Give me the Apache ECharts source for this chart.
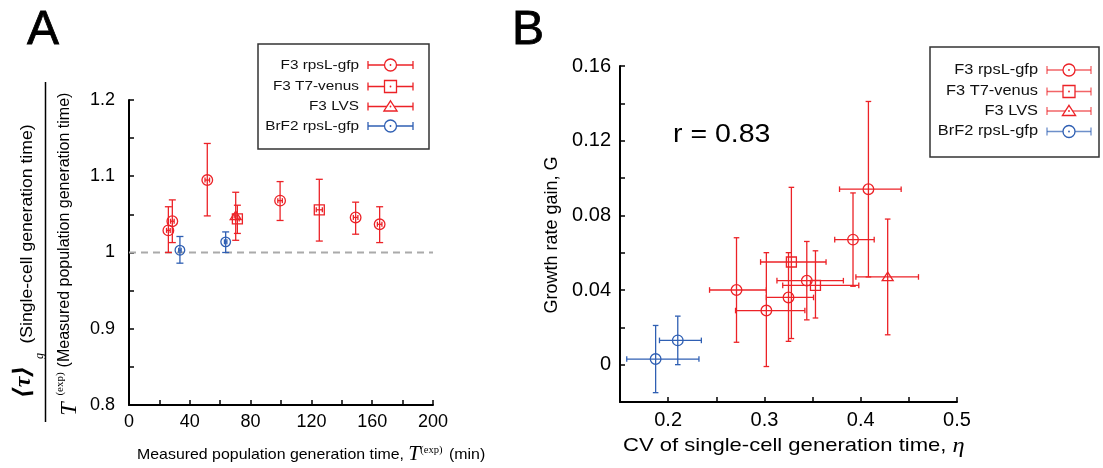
<!DOCTYPE html>
<html><head><meta charset="utf-8">
<script src="https://cdn.jsdelivr.net/npm/echarts@6/dist/echarts.min.js"></script>
<style>html,body{margin:0;padding:0;background:#fff}#c{width:1103px;height:468px}</style>
</head><body><div id="c"></div>
<script>
// ---------------- Panel A data ----------------
const aXTicks = [0, 40, 80, 120, 160, 200];
const aYTicks = [0.8, 0.9, 1, 1.1, 1.2];
// F3 rpsL-gfp
const aRpsX   = [25.9, 28.5, 51.5, 99.4, 149.1, 164.9];
const aRpsXe  = [1.2, 1.2, 1.5, 1.5, 1.5, 1.5];
const aRpsY   = [1.029, 1.041, 1.095, 1.068, 1.046, 1.037];
const aRpsYlo = [1.000, 1.013, 1.048, 1.042, 1.024, 1.013];
const aRpsYhi = [1.060, 1.069, 1.143, 1.093, 1.066, 1.060];
// F3 T7-venus
const aT7X   = [71.3, 125.2];
const aT7Xe  = [1.2, 2.0];
const aT7Y   = [1.044, 1.056];
const aT7Ylo = [1.025, 1.015];
const aT7Yhi = [1.062, 1.096];
// F3 LVS
const aLvsX   = [70.2];
const aLvsXe  = [1.0];
const aLvsY   = [1.048];
const aLvsYlo = [1.016];
const aLvsYhi = [1.079];
// BrF2 rpsL-gfp
const aBrX   = [33.5, 63.6];
const aBrXe  = [0.8, 0.8];
const aBrY   = [1.003, 1.014];
const aBrYlo = [0.986, 1.000];
const aBrYhi = [1.021, 1.027];
const aRefX = [0, 200];
const aRefY = [1, 1];

// ---------------- Panel B data ----------------
const bXTicks = [0.2, 0.3, 0.4, 0.5];
const bYTicks = [0, 0.04, 0.08, 0.12, 0.16];
const bRpsX   = [0.271, 0.302, 0.325, 0.344, 0.392, 0.408];
const bRpsXlo = [0.243, 0.270, 0.302, 0.313, 0.373, 0.378];
const bRpsXhi = [0.302, 0.342, 0.351, 0.382, 0.414, 0.442];
const bRpsY   = [0.040, 0.029, 0.036, 0.045, 0.067, 0.094];
const bRpsYlo = [0.012, -0.001, 0.0125, 0.024, 0.042, 0.047];
const bRpsYhi = [0.068, 0.060, 0.060, 0.066, 0.092, 0.141];
const bT7X   = [0.328, 0.353];
const bT7Xlo = [0.296, 0.319];
const bT7Xhi = [0.364, 0.398];
const bT7Y   = [0.055, 0.0425];
const bT7Ylo = [0.014, 0.025];
const bT7Yhi = [0.095, 0.061];
const bLvsX   = [0.428];
const bLvsXlo = [0.395];
const bLvsXhi = [0.460];
const bLvsY   = [0.047];
const bLvsYlo = [0.016];
const bLvsYhi = [0.078];
const bBrX   = [0.187, 0.210];
const bBrXlo = [0.157, 0.191];
const bBrXhi = [0.232, 0.2345];
const bBrY   = [0.003, 0.013];
const bBrYlo = [-0.015, 0.000];
const bBrYhi = [0.021, 0.026];

const legendLabels = ['F3 rpsL-gfp', 'F3 T7-venus', 'F3 LVS', 'BrF2 rpsL-gfp'];
const corrText = 'r = 0.83';

// ---------------- helpers ----------------
const RED = '#ec2227', BLUE = '#2f5fb3';
const SANS = '"Liberation Sans", Arial, Helvetica, sans-serif';
const SERIF = '"Liberation Serif", "DejaVu Serif", "Times New Roman", serif';

function rowsSym(x, xe, y, ylo, yhi) { return x.map((v, i) => [v, y[i], v - xe[i], v + xe[i], ylo[i], yhi[i]]); }
function rows(x, xlo, xhi, y, ylo, yhi) { return x.map((v, i) => [v, y[i], xlo[i], xhi[i], ylo[i], yhi[i]]); }

function marker(shape, cx, cy, s, style) {
  if (shape === 'circle') return {type: 'circle', shape: {cx, cy, r: s}, style};
  if (shape === 'square') return {type: 'rect', shape: {x: cx - s, y: cy - s, width: 2 * s, height: 2 * s}, style};
  return {type: 'polygon', shape: {points: [[cx, cy - s * 0.95], [cx + s * 1.1, cy + s * 0.75], [cx - s * 1.1, cy + s * 0.75]]}, style};
}

function errRender(o) {
  return function (params, api) {
    const x = api.value(0), y = api.value(1);
    const c = api.coord([x, y]);
    const xl = api.coord([api.value(2), y])[0], xh = api.coord([api.value(3), y])[0];
    const yl = api.coord([x, api.value(4)])[1], yh = api.coord([x, api.value(5)])[1];
    const st = () => ({stroke: o.color, lineWidth: o.lw, fill: 'none', opacity: o.op || 1});
    const L = (x1, y1, x2, y2) => ({type: 'line', shape: {x1, y1, x2, y2}, style: st()});
    const ch = [
      L(c[0], yl, c[0], yh), L(c[0] - o.cw, yl, c[0] + o.cw, yl), L(c[0] - o.cw, yh, c[0] + o.cw, yh),
      L(xl, c[1], xh, c[1]), L(xl, c[1] - o.ch, xl, c[1] + o.ch), L(xh, c[1] - o.ch, xh, c[1] + o.ch),
      marker(o.shape, c[0], c[1], o.size, {stroke: o.color, lineWidth: o.mlw || o.lw, fill: 'none'})
    ];
    return {type: 'group', children: ch};
  };
}

function customSeries(gi, data, o, z) {
  return {
    type: 'custom', xAxisIndex: gi, yAxisIndex: gi, data, renderItem: errRender(o),
    encode: {x: [0, 2, 3], y: [1, 4, 5]}, clip: false, silent: true, z: z || 2
  };
}

function legendGraphics(box, rowY, textRight, lx0, lx1, mx, fs, sx, lineOp) {
  const shapes = ['circle', 'square', 'triangle', 'circle'];
  const cols = [RED, RED, RED, BLUE];
  const g = [{type: 'rect', shape: box, style: {fill: '#fff', stroke: '#333', lineWidth: 1.5}, z: 50}];
  legendLabels.forEach((lab, i) => {
    const y = rowY[i], col = cols[i];
    const ls = {stroke: col, lineWidth: 1.3, opacity: lineOp};
    g.push({type: 'text', x: textRight, y: y, scaleX: sx, z: 51,
      style: {text: lab, fill: '#111', font: fs + 'px ' + SANS, align: 'right', verticalAlign: 'middle'}});
    g.push({type: 'line', z: 51, shape: {x1: lx0, y1: y, x2: lx1, y2: y}, style: Object.assign({}, ls)});
    g.push({type: 'line', z: 51, shape: {x1: lx0, y1: y - 4, x2: lx0, y2: y + 4}, style: Object.assign({}, ls)});
    g.push({type: 'line', z: 51, shape: {x1: lx1, y1: y - 4, x2: lx1, y2: y + 4}, style: Object.assign({}, ls)});
    const m = marker(shapes[i], mx, y, 6, {stroke: col, lineWidth: 1.3, fill: '#fff'});
    m.z = 52; g.push(m);
    g.push({type: 'circle', z: 53, shape: {cx: mx, cy: y, r: 0.9}, style: {fill: col}});
  });
  return g;
}

const axisBase = {
  type: 'value', splitLine: {show: false},
  axisLine: {show: true, onZero: false, lineStyle: {color: '#000', width: 2}},
  axisTick: {show: true, inside: true, length: 5, lineStyle: {color: '#000', width: 1.5}}
};

const chart = echarts.init(document.getElementById('c'), null, {renderer: 'canvas'});

const graphics = [
  // Panel letters
  {type: 'text', x: 43, y: 31, style: {text: 'A', font: '48px ' + SANS, fill: '#000', align: 'center', verticalAlign: 'middle', stroke: '#000', lineWidth: 0.8}},
  {type: 'text', x: 528, y: 31, style: {text: 'B', font: '48px ' + SANS, fill: '#000', align: 'center', verticalAlign: 'middle', stroke: '#000', lineWidth: 0.8}},
  // Panel A y label (fraction)
  {type: 'line', shape: {x1: 45.5, y1: 82, x2: 45.5, y2: 422}, style: {stroke: '#000', lineWidth: 1.5}},
  {type: 'text', x: 24, y: 382, rotation: Math.PI / 2,
    style: {text: '⟨τ⟩', font: 'italic bold 24px ' + SERIF, fill: '#000', align: 'center', verticalAlign: 'middle'}},
  {type: 'text', x: 40, y: 356, rotation: Math.PI / 2,
    style: {text: 'g', font: 'italic 12px ' + SERIF, fill: '#000', align: 'center', verticalAlign: 'middle'}},
  {type: 'text', x: 28, y: 234, rotation: Math.PI / 2, scaleX: 1.1,
    style: {text: '(Single-cell generation time)', font: '16px ' + SANS, fill: '#000', align: 'center', verticalAlign: 'middle'}},
  {type: 'text', x: 70, y: 409, rotation: Math.PI / 2,
    style: {text: 'T', font: 'italic 24px ' + SERIF, fill: '#000', align: 'center', verticalAlign: 'middle'}},
  {type: 'text', x: 60, y: 384, rotation: Math.PI / 2,
    style: {text: '(exp)', font: '11px ' + SERIF, fill: '#000', align: 'center', verticalAlign: 'middle'}},
  {type: 'text', x: 65, y: 230, rotation: Math.PI / 2,
    style: {text: '(Measured population generation time)', font: '16px ' + SANS, fill: '#000', align: 'center', verticalAlign: 'middle'}},
  // Panel A x label
  {type: 'text', x: 137, y: 455, scaleX: 1.06,
    style: {text: '{a|Measured population generation time, }{t|T}{s|(exp)}{a| (min)}', align: 'left', verticalAlign: 'middle',
      rich: {a: {font: '15px ' + SANS, fill: '#000'}, t: {font: 'italic 20px ' + SERIF, fill: '#000'},
        s: {font: '10px ' + SERIF, fill: '#000', verticalAlign: 'top', padding: [0, 2, 0, 0]}}}},
  // Panel B labels
  {type: 'text', x: 623, y: 446, scaleX: 1.16,
    style: {text: '{a|CV of single-cell generation time, }{t|η}', align: 'left', verticalAlign: 'middle',
      rich: {a: {font: '19px ' + SANS, fill: '#000'}, t: {font: 'italic 21px ' + SERIF, fill: '#000'}}}},
  {type: 'text', x: 552, y: 235, rotation: Math.PI / 2,
    style: {text: 'Growth rate gain, G', font: '18px ' + SANS, fill: '#000', align: 'center', verticalAlign: 'middle'}},
  {type: 'text', x: 673, y: 135, scaleX: 1.14,
    style: {text: corrText, font: '25px ' + SANS, fill: '#000', align: 'left', verticalAlign: 'middle'}}
].concat(
  legendGraphics({x: 258, y: 44, width: 171, height: 105}, [65, 86.5, 106.5, 126], 359, 368, 413, 390.5, 13, 1.18, 1),
  legendGraphics({x: 930, y: 47, width: 169, height: 110}, [70, 91.5, 111, 131.5], 1038, 1047, 1091, 1069, 14, 1.17, 0.7)
);

const option = {
  animation: false,
  backgroundColor: '#fff',
  textStyle: {fontFamily: SANS},
  grid: [
    {left: 129, top: 100, width: 304, height: 305},
    {left: 620, top: 66, width: 337, height: 336}
  ],
  xAxis: [
    Object.assign({}, axisBase, {gridIndex: 0, min: 0, max: 200, interval: 20,
      axisLabel: {color: '#000', fontSize: 18, margin: 8, fontFamily: SANS,
        formatter: v => aXTicks.some(t => Math.abs(t - v) < 1e-6) ? String(v) : ''}}),
    Object.assign({}, axisBase, {gridIndex: 1, min: 0.15, max: 0.5, interval: 0.05,
      axisLabel: {color: '#000', fontSize: 20, margin: 8, fontFamily: SANS,
        formatter: v => bXTicks.some(t => Math.abs(t - v) < 1e-6) ? String(Math.round(v * 10) / 10) : ''}})
  ],
  yAxis: [
    Object.assign({}, axisBase, {gridIndex: 0, min: 0.8, max: 1.2, interval: 0.05,
      axisLabel: {color: '#000', fontSize: 18, margin: 14, fontFamily: SANS,
        formatter: v => aYTicks.some(t => Math.abs(t - v) < 1e-6) ? String(Math.round(v * 10) / 10) : ''}}),
    Object.assign({}, axisBase, {gridIndex: 1, min: -0.02, max: 0.16, interval: 0.02,
      axisLabel: {color: '#000', fontSize: 20, margin: 9, fontFamily: SANS,
        formatter: v => bYTicks.some(t => Math.abs(t - v) < 1e-6) ? (Math.abs(v) < 1e-9 ? '0' : (Math.round(v * 100) / 100).toFixed(2)) : ''}})
  ],
  series: [
    {type: 'line', xAxisIndex: 0, yAxisIndex: 0, data: aRefX.map((v, i) => [v, aRefY[i]]), symbol: 'none', silent: true,
      lineStyle: {color: '#aaa', width: 2, type: [7, 5]}, z: 1},
    customSeries(0, rowsSym(aBrX, aBrXe, aBrY, aBrYlo, aBrYhi), {color: BLUE, lw: 1.3, cw: 3.5, ch: 2.5, shape: 'circle', size: 4.8}, 3),
    customSeries(0, rowsSym(aRpsX, aRpsXe, aRpsY, aRpsYlo, aRpsYhi), {color: RED, lw: 1.3, cw: 3.5, ch: 2.5, shape: 'circle', size: 5.3}, 3),
    customSeries(0, rowsSym(aT7X, aT7Xe, aT7Y, aT7Ylo, aT7Yhi), {color: RED, lw: 1.3, cw: 3.5, ch: 2.5, shape: 'square', size: 5}, 3),
    customSeries(0, rowsSym(aLvsX, aLvsXe, aLvsY, aLvsYlo, aLvsYhi), {color: RED, lw: 1.3, cw: 3.5, ch: 2.5, shape: 'triangle', size: 5}, 3),
    customSeries(1, rows(bBrX, bBrXlo, bBrXhi, bBrY, bBrYlo, bBrYhi), {color: BLUE, lw: 1.3, cw: 2.8, ch: 2.8, shape: 'circle', size: 5.3}, 3),
    customSeries(1, rows(bRpsX, bRpsXlo, bRpsXhi, bRpsY, bRpsYlo, bRpsYhi), {color: RED, lw: 1.3, cw: 2.8, ch: 2.8, shape: 'circle', size: 5.3}, 3),
    customSeries(1, rows(bT7X, bT7Xlo, bT7Xhi, bT7Y, bT7Ylo, bT7Yhi), {color: RED, lw: 1.3, cw: 2.8, ch: 2.8, shape: 'square', size: 5}, 3),
    customSeries(1, rows(bLvsX, bLvsXlo, bLvsXhi, bLvsY, bLvsYlo, bLvsYhi), {color: RED, lw: 1.3, cw: 2.8, ch: 2.8, shape: 'triangle', size: 5}, 3)
  ],
  graphic: {elements: graphics}
};
chart.setOption(option);
</script>
</body></html>
